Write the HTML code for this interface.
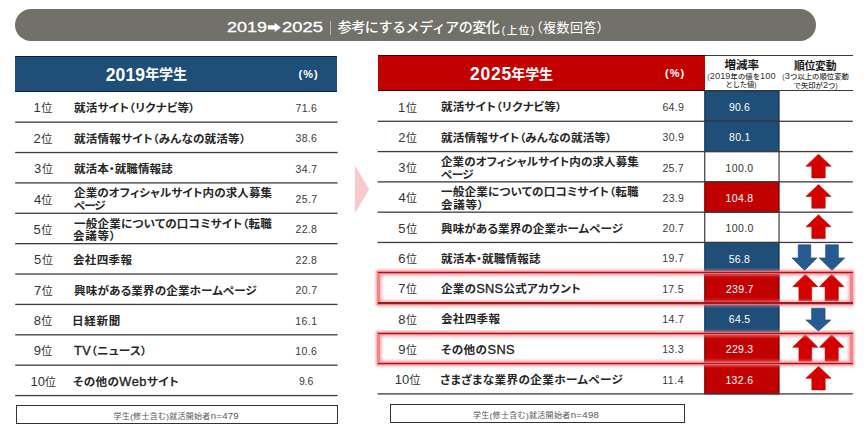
<!DOCTYPE html>
<html lang="ja"><head><meta charset="utf-8"><title>参考にするメディアの変化</title>
<style>
html,body{margin:0;padding:0;background:#fff;}
body{width:867px;height:438px;position:relative;overflow:hidden;font-family:"Liberation Sans","Noto Sans CJK JP",sans-serif;color:#222;}
.a{position:absolute;white-space:nowrap;}
.banner{left:15px;top:8.8px;width:801px;height:31.8px;border-radius:16px;background:#71716a;}
.tt{color:#fff;font-weight:500;font-size:14px;}
.td{color:#fff;font-weight:400;font-size:15.3px;-webkit-text-stroke-width:0.3px;}
.ts{color:#fff;font-weight:500;font-size:10.5px;}
.tm{color:#fff;font-weight:400;font-size:13px;font-feature-settings:"palt" 1;}
.hd{color:#fff;font-weight:700;font-size:14px;}
.hn{color:#fff;font-weight:700;font-size:17.5px;}
.hp{color:#fff;font-weight:700;font-size:11px;}
.ch{color:#1a1a1a;font-weight:700;font-size:11.6px;}
.ch2{color:#1a1a1a;font-weight:700;font-size:10.8px;}
.cs{color:#333;font-weight:500;font-size:7.3px;}
.cs u{text-decoration:none;font-size:9.2px;}
.ln{background:#3a3a3a;}
.rk{font-size:13px;color:#333;}
.rk i{font-style:normal;font-size:11px;letter-spacing:0;}
.lb{font-size:11px;font-weight:700;color:#262626;font-feature-settings:"palt" 1;transform-origin:0 50%;transform:scaleX(1.05);}
.lb u{text-decoration:none;font-weight:400;font-size:12.2px;-webkit-text-stroke-width:0.35px;}
.pc{font-size:10.5px;color:#3a3a3a;}
.cv{font-size:10.5px;}
.cell{box-sizing:border-box;}
.cb{background:#1f4e79;border:1px solid #14304c;}
.cr{background:#c00000;border:1px solid #6e0000;}
.cw{border-left:1px solid #222;border-right:1px solid #222;}
.note{border:1px solid #333;box-sizing:border-box;}
.nt{font-size:8px;color:#555;}
.nt u{text-decoration:none;font-size:9.6px;}
.hl{box-sizing:border-box;border:3px solid rgba(240,120,125,.9);box-shadow:0 0 2.5px 1px rgba(240,130,135,.8), inset 0 0 3px 1.5px rgba(240,130,135,.7);}
</style></head><body>
<div class="a banner"></div>

<svg class="a" style="left:0;top:0" width="867" height="438" viewBox="0 0 867 438"><rect x="704.75" y="91.00" width="74.3" height="30.29" fill="#1f4e79" stroke="#13324f" stroke-width="1.1"/><rect x="704.75" y="121.29" width="74.3" height="30.29" fill="#1f4e79" stroke="#13324f" stroke-width="1.1"/><rect x="704.2" y="151.58" width="1.1" height="30.29" fill="#2a2a2a"/><rect x="778.5" y="151.58" width="1.1" height="30.29" fill="#2a2a2a"/><rect x="704.75" y="181.87" width="74.3" height="30.29" fill="#c30000" stroke="#6a0000" stroke-width="1.1"/><rect x="704.2" y="212.16" width="1.1" height="30.29" fill="#2a2a2a"/><rect x="778.5" y="212.16" width="1.1" height="30.29" fill="#2a2a2a"/><rect x="704.75" y="242.45" width="74.3" height="30.29" fill="#1f4e79" stroke="#13324f" stroke-width="1.1"/><rect x="704.75" y="272.74" width="74.3" height="30.29" fill="#c30000" stroke="#6a0000" stroke-width="1.1"/><rect x="704.75" y="303.03" width="74.3" height="30.29" fill="#1f4e79" stroke="#13324f" stroke-width="1.1"/><rect x="704.75" y="333.32" width="74.3" height="30.29" fill="#c30000" stroke="#6a0000" stroke-width="1.1"/><rect x="704.75" y="363.61" width="74.3" height="30.29" fill="#c30000" stroke="#6a0000" stroke-width="1.1"/><rect x="15.2" y="121.50" width="322.4" height="1.3" fill="#3d3d3d"/><rect x="15.2" y="151.88" width="322.4" height="1.3" fill="#3d3d3d"/><rect x="15.2" y="182.26" width="322.4" height="1.3" fill="#3d3d3d"/><rect x="15.2" y="212.64" width="322.4" height="1.3" fill="#3d3d3d"/><rect x="15.2" y="243.02" width="322.4" height="1.3" fill="#3d3d3d"/><rect x="15.2" y="273.40" width="322.4" height="1.3" fill="#3d3d3d"/><rect x="15.2" y="303.78" width="322.4" height="1.3" fill="#3d3d3d"/><rect x="15.2" y="334.16" width="322.4" height="1.3" fill="#3d3d3d"/><rect x="15.2" y="364.54" width="322.4" height="1.3" fill="#3d3d3d"/><rect x="15.2" y="394.92" width="322.4" height="1.3" fill="#3d3d3d"/><rect x="377.6" y="120.64" width="475.2" height="1.3" fill="#3d3d3d"/><rect x="377.6" y="150.93" width="475.2" height="1.3" fill="#3d3d3d"/><rect x="377.6" y="181.22" width="475.2" height="1.3" fill="#3d3d3d"/><polygon points="818.5,154.2 831.1,166.2 825.2,166.2 825.2,177.9 811.8,177.9 811.8,166.2 805.9,166.2" fill="#d40000" stroke="#c00000" stroke-width="0.6"/><rect x="377.6" y="211.51" width="475.2" height="1.3" fill="#3d3d3d"/><polygon points="818.5,184.5 831.1,196.5 825.2,196.5 825.2,208.2 811.8,208.2 811.8,196.5 805.9,196.5" fill="#d40000" stroke="#c00000" stroke-width="0.6"/><rect x="377.6" y="241.80" width="475.2" height="1.3" fill="#3d3d3d"/><polygon points="818.5,214.8 831.1,226.8 825.2,226.8 825.2,238.5 811.8,238.5 811.8,226.8 805.9,226.8" fill="#d40000" stroke="#c00000" stroke-width="0.6"/><rect x="377.6" y="272.09" width="475.2" height="1.3" fill="#3d3d3d"/><polygon points="804.5,270.4 817.1,257.9 810.8,257.9 810.8,244.8 798.2,244.8 798.2,257.9 791.9,257.9" fill="#255b91" stroke="#1f4e79" stroke-width="0.6"/><polygon points="832.0,270.4 844.8,257.9 838.4,257.9 838.4,244.8 825.6,244.8 825.6,257.9 819.2,257.9" fill="#255b91" stroke="#1f4e79" stroke-width="0.6"/><rect x="377.6" y="302.38" width="475.2" height="1.3" fill="#3d3d3d"/><polygon points="805.3,274.2 817.9,286.7 811.7,286.7 811.7,300.7 798.9,300.7 798.9,286.7 792.7,286.7" fill="#d40000" stroke="#c00000" stroke-width="0.6"/><polygon points="831.7,274.2 844.0,286.7 838.3,286.7 838.3,300.7 825.1,300.7 825.1,286.7 819.4,286.7" fill="#d40000" stroke="#c00000" stroke-width="0.6"/><rect x="377.6" y="332.67" width="475.2" height="1.3" fill="#3d3d3d"/><polygon points="818.4,331.2 831.0,319.9 825.1,319.9 825.1,308.2 811.6,308.2 811.6,319.9 805.8,319.9" fill="#255b91" stroke="#1f4e79" stroke-width="0.6"/><rect x="377.6" y="362.96" width="475.2" height="1.3" fill="#3d3d3d"/><polygon points="805.3,334.8 817.9,347.3 811.7,347.3 811.7,361.3 798.9,361.3 798.9,347.3 792.7,347.3" fill="#d40000" stroke="#c00000" stroke-width="0.6"/><polygon points="831.7,334.8 844.0,347.3 838.3,347.3 838.3,361.3 825.1,361.3 825.1,347.3 819.4,347.3" fill="#d40000" stroke="#c00000" stroke-width="0.6"/><rect x="377.6" y="393.25" width="475.2" height="1.3" fill="#3d3d3d"/><polygon points="818.5,366.3 831.1,378.3 825.2,378.3 825.2,389.9 811.8,389.9 811.8,378.3 805.9,378.3" fill="#d40000" stroke="#c00000" stroke-width="0.6"/></svg>
<div class="a td" id="t1" style="left:226.77px;top:17.37px;line-height:20px;transform-origin:0 50%;transform:scaleX(1.1714);">2019</div>
<svg class="a" style="left:266px;top:20px" width="16" height="14" viewBox="266 20 16 14"><polygon points="267.8,25.2 274.7,25.2 274.7,22.7 280.9,27.4 274.7,32.1 274.7,29.5 267.8,29.5" fill="#fff"/></svg>
<div class="a td" id="t2" style="left:282.05px;top:17.20px;line-height:20px;transform-origin:0 50%;transform:scaleX(1.2044);">2025</div>
<div class="a" style="left:330px;top:20.5px;width:1px;height:14px;background:#b9b8b3;"></div>
<div class="a tt" id="t3" style="left:337.81px;top:17.30px;line-height:20px;letter-spacing:-0.463px;">参考にするメディアの変化</div>
<div class="a ts" id="t4" style="left:501.76px;top:19.53px;line-height:20px;letter-spacing:1.474px;">(上位)</div>
<div class="a tm" id="t5" style="left:535.86px;top:17.98px;line-height:20px;letter-spacing:0.546px;">（複数回答）</div>
<div class="a" style="left:15.2px;top:55.8px;width:322.2px;height:36px;background:#1f4e79;box-sizing:border-box;border-top:1.2px solid #0d2238;border-bottom:1.5px solid #0d2238;"></div>
<div class="a hn" id="h1n" style="left:105.73px;top:64.50px;line-height:20px;letter-spacing:0.132px;">2019</div>
<div class="a hd" id="h1" style="left:145.15px;top:64.19px;line-height:20px;letter-spacing:-0.047px;">年学生</div>
<div class="a hp" id="h2" style="left:298.51px;top:63.50px;line-height:20px;letter-spacing:1.019px;">(%)</div>
<div class="a" style="left:377.6px;top:55.0px;width:327.4px;height:35.8px;background:#c30000;box-sizing:border-box;border-top:1.2px solid #3a0000;border-bottom:1.5px solid #3a0000;"></div>
<div class="a hn" id="h3n" style="left:470.08px;top:63.50px;line-height:20px;letter-spacing:0.748px;">2025</div>
<div class="a hd" id="h3" style="left:511.28px;top:63.64px;line-height:20px;letter-spacing:-0.098px;">年学生</div>
<div class="a hp" id="h4" style="left:665.01px;top:62.90px;line-height:20px;letter-spacing:1.049px;">(%)</div>
<div class="a ln" style="left:705px;top:54.8px;width:147.8px;height:1.2px;"></div>
<div class="a ln" style="left:705px;top:89.6px;width:147.8px;height:1.3px;"></div>
<div class="a ch" id="c1" style="left:724.46px;top:55.37px;line-height:20px;letter-spacing:-0.049px;">増減率</div>
<div class="a cs" id="c2" style="left:707.26px;top:66.10px;line-height:20px;letter-spacing:0.078px;">(<u>2019</u>年の値を<u>100</u></div>
<div class="a cs" id="c3" style="left:725.58px;top:74.97px;line-height:20px;letter-spacing:-0.180px;">とした値)</div>
<div class="a ch2" id="c4" style="left:793.90px;top:56.32px;line-height:20px;letter-spacing:-0.187px;">順位変動</div>
<div class="a cs" id="c5" style="left:782.33px;top:66.49px;line-height:20px;letter-spacing:0.067px;">(<u>3</u>つ以上の順位変動</div>
<div class="a cs" id="c6" style="left:793.61px;top:75.14px;line-height:20px;letter-spacing:0.022px;">で矢印が<u>2</u>つ)</div>
<div class="a rk" id="lr0" style="left:33.43px;top:98.02px;line-height:20px;letter-spacing:0.703px;">1<i>位</i></div>
<div class="a lb" id="ll0a" style="left:73.53px;top:98.29px;line-height:20px;letter-spacing:0.179px;">就活サイト（リクナビ等）</div>
<div class="a pc" id="lp0" style="left:295.46px;top:97.56px;line-height:20px;letter-spacing:0.344px;">71.6</div>
<div class="a rk" id="lr1" style="left:33.62px;top:129.22px;line-height:20px;letter-spacing:0.501px;">2<i>位</i></div>
<div class="a lb" id="ll1a" style="left:73.93px;top:129.06px;line-height:20px;letter-spacing:0.209px;">就活情報サイト（みんなの就活等）</div>
<div class="a pc" id="lp1" style="left:295.52px;top:128.40px;line-height:20px;letter-spacing:0.300px;">38.6</div>
<div class="a rk" id="lr2" style="left:33.96px;top:159.42px;line-height:20px;letter-spacing:0.710px;">3<i>位</i></div>
<div class="a lb" id="ll2a" style="left:73.53px;top:159.24px;line-height:20px;letter-spacing:0.065px;">就活本・就職情報誌</div>
<div class="a pc" id="lp2" style="left:295.45px;top:159.08px;line-height:20px;letter-spacing:0.399px;">34.7</div>
<div class="a rk" id="lr3" style="left:33.95px;top:189.50px;line-height:20px;letter-spacing:0.172px;">4<i>位</i></div>
<div class="a lb" id="ll3a" style="left:73.97px;top:183.13px;line-height:20px;letter-spacing:0.077px;">企業のオフィシャルサイト内の求人募集</div>
<div class="a lb" id="ll3b" style="left:73.66px;top:196.11px;line-height:20px;letter-spacing:-1.014px;">ページ</div>
<div class="a pc" id="lp3" style="left:295.56px;top:189.10px;line-height:20px;letter-spacing:0.409px;">25.7</div>
<div class="a rk" id="lr4" style="left:33.57px;top:219.58px;line-height:20px;letter-spacing:0.562px;">5<i>位</i></div>
<div class="a lb" id="ll4a" style="left:73.91px;top:214.02px;line-height:20px;letter-spacing:0.215px;">一般企業についての口コミサイト（転職</div>
<div class="a lb" id="ll4b" style="left:73.12px;top:226.29px;line-height:20px;letter-spacing:0.663px;">会議等）</div>
<div class="a pc" id="lp4" style="left:295.58px;top:219.24px;line-height:20px;letter-spacing:0.242px;">22.8</div>
<div class="a rk" id="lr5" style="left:34.00px;top:250.20px;line-height:20px;letter-spacing:0.667px;">5<i>位</i></div>
<div class="a lb" id="ll5a" style="left:73.10px;top:250.45px;line-height:20px;letter-spacing:0.282px;">会社四季報</div>
<div class="a pc" id="lp5" style="left:295.55px;top:249.60px;line-height:20px;letter-spacing:0.309px;">22.8</div>
<div class="a rk" id="lr6" style="left:34.00px;top:280.66px;line-height:20px;letter-spacing:0.502px;">7<i>位</i></div>
<div class="a lb" id="ll6a" style="left:74.00px;top:280.85px;line-height:20px;letter-spacing:0.131px;">興味がある業界の企業ホームページ</div>
<div class="a pc" id="lp6" style="left:295.57px;top:279.88px;line-height:20px;letter-spacing:0.361px;">20.7</div>
<div class="a rk" id="lr7" style="left:33.71px;top:310.94px;line-height:20px;letter-spacing:0.387px;">8<i>位</i></div>
<div class="a lb" id="ll7a" style="left:71.97px;top:310.64px;line-height:20px;letter-spacing:0.687px;">日経新聞</div>
<div class="a pc" id="lp7" style="left:295.20px;top:310.82px;line-height:20px;letter-spacing:0.479px;">16.1</div>
<div class="a rk" id="lr8" style="left:33.69px;top:341.00px;line-height:20px;letter-spacing:0.428px;">9<i>位</i></div>
<div class="a lb" id="ll8a" style="left:74.07px;top:340.94px;line-height:20px;letter-spacing:0.306px;"><u>TV</u>（ニュース）</div>
<div class="a pc" id="lp8" style="left:295.20px;top:341.00px;line-height:20px;letter-spacing:0.425px;">10.6</div>
<div class="a rk" id="lr9" style="left:30.40px;top:371.70px;line-height:20px;letter-spacing:0.089px;">10<i>位</i></div>
<div class="a lb" id="ll9a" style="left:72.99px;top:371.52px;line-height:20px;letter-spacing:0.413px;">その他の<u>Web</u>サイト</div>
<div class="a pc" id="lp9" style="left:298.94px;top:371.08px;line-height:20px;letter-spacing:-0.158px;">9.6</div>
<div class="a rk" id="rr0" style="left:397.94px;top:97.55px;line-height:20px;letter-spacing:0.812px;">1<i>位</i></div>
<div class="a lb" id="rl0a" style="left:441.32px;top:97.20px;line-height:20px;letter-spacing:0.170px;">就活サイト（リクナビ等）</div>
<div class="a pc" id="rp0" style="left:662.48px;top:97.45px;line-height:20px;letter-spacing:0.309px;">64.9</div>
<div class="a cv" id="rv0" style="left:728.91px;top:96.70px;line-height:20px;letter-spacing:0.139px;color:#fff;">90.6</div>
<div class="a rk" id="rr1" style="left:398.13px;top:127.90px;line-height:20px;letter-spacing:0.524px;">2<i>位</i></div>
<div class="a lb" id="rl1a" style="left:441.02px;top:128.24px;line-height:20px;letter-spacing:0.157px;">就活情報サイト（みんなの就活等）</div>
<div class="a pc" id="rp1" style="left:662.52px;top:127.40px;line-height:20px;letter-spacing:0.285px;">30.9</div>
<div class="a cv" id="rv1" style="left:729.00px;top:127.10px;line-height:20px;letter-spacing:0.298px;color:#fff;">80.1</div>
<div class="a rk" id="rr2" style="left:398.22px;top:158.21px;line-height:20px;letter-spacing:0.579px;">3<i>位</i></div>
<div class="a lb" id="rl2a" style="left:441.43px;top:151.60px;line-height:20px;letter-spacing:0.061px;">企業のオフィシャルサイト内の求人募集</div>
<div class="a lb" id="rl2b" style="left:441.21px;top:164.94px;line-height:20px;letter-spacing:-0.477px;">ページ</div>
<div class="a pc" id="rp2" style="left:662.59px;top:157.72px;line-height:20px;letter-spacing:0.203px;">25.7</div>
<div class="a cv" id="rv2" style="left:725.56px;top:157.59px;line-height:20px;letter-spacing:0.341px;color:#333;">100.0</div>
<div class="a rk" id="rr3" style="left:398.59px;top:188.04px;line-height:20px;letter-spacing:0.124px;">4<i>位</i></div>
<div class="a lb" id="rl3a" style="left:441.32px;top:181.81px;line-height:20px;letter-spacing:0.199px;">一般企業についての口コミサイト（転職</div>
<div class="a lb" id="rl3b" style="left:440.77px;top:194.79px;line-height:20px;letter-spacing:0.686px;">会議等）</div>
<div class="a pc" id="rp3" style="left:662.55px;top:188.20px;line-height:20px;letter-spacing:0.298px;">23.9</div>
<div class="a cv" id="rv3" style="left:725.56px;top:187.80px;line-height:20px;letter-spacing:0.338px;color:#fff;">104.8</div>
<div class="a rk" id="rr4" style="left:398.13px;top:218.57px;line-height:20px;letter-spacing:0.798px;">5<i>位</i></div>
<div class="a lb" id="rl4a" style="left:441.25px;top:219.00px;line-height:20px;letter-spacing:0.076px;">興味がある業界の企業ホームページ</div>
<div class="a pc" id="rp4" style="left:662.54px;top:217.89px;line-height:20px;letter-spacing:0.322px;">20.7</div>
<div class="a cv" id="rv4" style="left:725.57px;top:217.94px;line-height:20px;letter-spacing:0.358px;color:#333;">100.0</div>
<div class="a rk" id="rr5" style="left:398.19px;top:249.40px;line-height:20px;letter-spacing:0.501px;">6<i>位</i></div>
<div class="a lb" id="rl5a" style="left:440.92px;top:249.40px;line-height:20px;letter-spacing:0.151px;">就活本・就職情報誌</div>
<div class="a pc" id="rp5" style="left:662.20px;top:248.41px;line-height:20px;letter-spacing:0.428px;">19.7</div>
<div class="a cv" id="rv5" style="left:728.80px;top:248.92px;line-height:20px;letter-spacing:0.222px;color:#fff;">56.8</div>
<div class="a rk" id="rr6" style="left:398.13px;top:278.80px;line-height:20px;letter-spacing:0.523px;">7<i>位</i></div>
<div class="a lb" id="rl6a" style="left:441.45px;top:278.70px;line-height:20px;letter-spacing:0.249px;">企業の<u>SNS</u>公式アカウント</div>
<div class="a pc" id="rp6" style="left:662.20px;top:279.02px;line-height:20px;letter-spacing:0.335px;">17.5</div>
<div class="a cv" id="rv6" style="left:725.97px;top:278.80px;line-height:20px;letter-spacing:0.301px;color:#fff;">239.7</div>
<div class="a rk" id="rr7" style="left:398.33px;top:309.77px;line-height:20px;letter-spacing:0.421px;">8<i>位</i></div>
<div class="a lb" id="rl7a" style="left:440.89px;top:309.21px;line-height:20px;letter-spacing:0.286px;">会社四季報</div>
<div class="a pc" id="rp7" style="left:662.20px;top:308.63px;line-height:20px;letter-spacing:0.428px;">14.7</div>
<div class="a cv" id="rv7" style="left:728.87px;top:309.19px;line-height:20px;letter-spacing:0.306px;color:#fff;">64.5</div>
<div class="a rk" id="rr8" style="left:398.25px;top:340.10px;line-height:20px;letter-spacing:0.571px;">9<i>位</i></div>
<div class="a lb" id="rl8a" style="left:440.86px;top:340.07px;line-height:20px;letter-spacing:0.424px;">その他の<u>SNS</u></div>
<div class="a pc" id="rp8" style="left:662.20px;top:339.32px;line-height:20px;letter-spacing:0.326px;">13.3</div>
<div class="a cv" id="rv8" style="left:725.77px;top:339.04px;line-height:20px;letter-spacing:0.292px;color:#fff;">229.3</div>
<div class="a rk" id="rr9" style="left:394.72px;top:370.15px;line-height:20px;letter-spacing:0.165px;">10<i>位</i></div>
<div class="a lb" id="rl9a" style="left:440.07px;top:370.07px;line-height:20px;letter-spacing:0.392px;">さまざまな業界の企業ホームページ</div>
<div class="a pc" id="rp9" style="left:662.20px;top:369.50px;line-height:20px;letter-spacing:0.588px;">11.4</div>
<div class="a cv" id="rv9" style="left:725.38px;top:370.00px;line-height:20px;letter-spacing:0.390px;color:#fff;">132.6</div>
<div class="a hl" style="left:376.8px;top:271.14px;width:476.2px;height:33.49px;"></div>
<div class="a" style="left:378.2px;top:271.99px;width:474.6px;height:1.5px;background:#a3181e;"></div>
<div class="a" style="left:378.2px;top:302.28px;width:474.6px;height:1.5px;background:#a3181e;"></div>
<div class="a hl" style="left:376.8px;top:331.72px;width:476.2px;height:33.49px;"></div>
<div class="a" style="left:378.2px;top:332.57px;width:474.6px;height:1.5px;background:#a3181e;"></div>
<div class="a" style="left:378.2px;top:362.86px;width:474.6px;height:1.5px;background:#a3181e;"></div>
<svg class="a" style="left:350px;top:160px" width="24" height="60" viewBox="350 160 24 60"><polygon points="354.9,165.4 369.1,189.2 354.9,213.4" fill="#f8c9cc"/></svg>
<div class="a note" style="left:15.6px;top:404.8px;width:322.2px;height:19.4px;"></div>
<div class="a nt" id="n1" style="left:113.61px;top:405.73px;line-height:20px;letter-spacing:0.283px;">学生(修士含む)就活開始者<u>n=479</u></div>
<div class="a note" style="left:389.6px;top:403.6px;width:295.4px;height:19.4px;"></div>
<div class="a nt" id="n2" style="left:472.89px;top:404.68px;line-height:20px;letter-spacing:0.341px;">学生(修士含む)就活開始者<u>n=498</u></div>
</body></html>
